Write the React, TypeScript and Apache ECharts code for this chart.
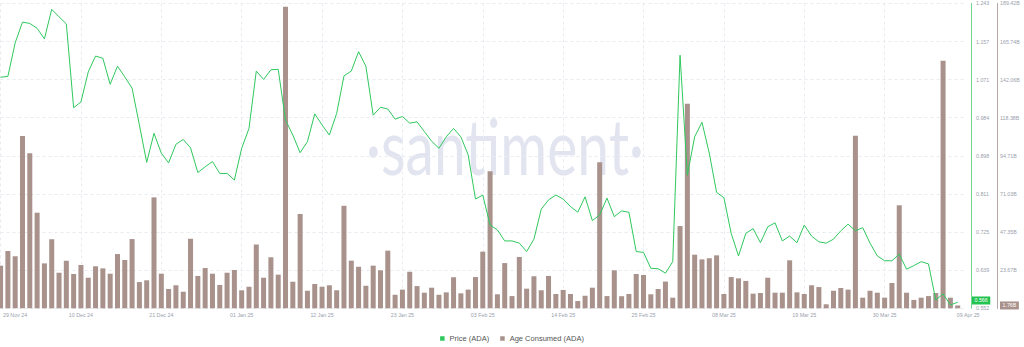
import React, { useEffect, useRef } from "react";
import * as echarts from "echarts";

// ---- data ----
const startDate = "2024-11-29";
const dayCount = 133; // 132 daily points + one empty slot at the right edge

const priceADA = [
  1.076, 1.078, 1.154, 1.201, 1.198, 1.187, 1.163, 1.230, 1.213, 1.197,
  1.007, 1.020, 1.088, 1.124, 1.119, 1.060, 1.101, 1.077, 1.051, 0.968,
  0.883, 0.949, 0.904, 0.882, 0.924, 0.935, 0.916, 0.860, 0.873, 0.885,
  0.858, 0.858, 0.843, 0.915, 0.960, 1.090, 1.071, 1.093, 1.094, 0.979,
  0.945, 0.905, 0.930, 0.993, 0.968, 0.945, 0.994, 1.079, 1.090, 1.134,
  1.101, 0.990, 1.008, 1.004, 0.981, 0.987, 0.972, 0.975, 0.953, 0.931,
  0.915, 0.941, 0.960, 0.941, 0.900, 0.800, 0.809, 0.741, 0.730, 0.705,
  0.705, 0.700, 0.681, 0.709, 0.777, 0.798, 0.809, 0.800, 0.783, 0.770,
  0.805, 0.751, 0.764, 0.802, 0.760, 0.773, 0.770, 0.681, 0.679, 0.643,
  0.642, 0.632, 0.658, 1.126, 0.854, 0.941, 0.974, 0.904, 0.815, 0.803,
  0.722, 0.671, 0.722, 0.733, 0.701, 0.737, 0.746, 0.705, 0.716, 0.701,
  0.741, 0.716, 0.703, 0.700, 0.709, 0.728, 0.743, 0.728, 0.735, 0.700,
  0.671, 0.660, 0.660, 0.675, 0.641, 0.649, 0.658, 0.653, 0.571, 0.585,
  0.560, 0.566,
];

// Age Consumed, in billions
const ageConsumedB = [
  26.5, 35.6, 32.3, 107.0, 96.3, 59.4, 27.9, 42.9, 22.1, 29.6,
  21.3, 26.9, 19.0, 26.1, 24.8, 21.5, 33.7, 30.0, 43.0, 16.3,
  17.4, 68.9, 21.5, 12.0, 14.3, 10.3, 43.2, 20.1, 25.0, 21.5,
  14.5, 22.1, 23.8, 11.2, 13.4, 39.7, 19.0, 31.7, 20.9, 187.3,
  16.5, 58.6, 10.9, 15.1, 13.4, 14.3, 11.2, 63.7, 29.6, 25.8,
  14.0, 26.5, 23.6, 35.8, 8.4, 11.6, 22.7, 13.8, 9.7, 12.8,
  8.4, 9.9, 19.3, 9.3, 11.6, 19.4, 35.2, 85.1, 8.7, 28.1,
  7.6, 31.9, 12.2, 19.9, 11.2, 20.1, 8.9, 11.4, 8.9, 4.5,
  7.8, 12.8, 90.7, 7.6, 23.6, 7.5, 8.9, 21.3, 20.7, 8.7,
  12.0, 16.6, 6.6, 51.1, 127.1, 33.3, 30.4, 31.1, 32.9, 8.9,
  19.4, 18.6, 17.0, 9.1, 9.5, 19.0, 9.7, 9.7, 29.8, 9.9,
  8.9, 14.3, 13.2, 2.5, 10.9, 12.6, 11.6, 107.2, 6.6, 10.9,
  9.7, 6.6, 15.7, 64.0, 9.7, 5.2, 6.6, 7.6, 9.5, 153.8,
  6.6, 1.76,
];

const priceTicks = [0.5523, 0.63869, 0.72508, 0.81147, 0.89786, 0.98425, 1.07064, 1.15703, 1.24342];
const ageMax = 189.42e9;
const ageStep = 23.6775e9;
const lastPriceLabel = "0.566";
const lastAgeLabel = "1.76B";
const legendNames = ["Price (ADA)", "Age Consumed (ADA)"];
const monthNames = ["Jan", "Feb", "Mar", "Apr", "May", "Jun", "Jul", "Aug", "Sep", "Oct", "Nov", "Dec"];

const PRICE_COLOR = "#2fc85e";
const AGE_COLOR = "#a8928b";
const AXIS_TEXT = "#9aa1ad";
const GRID_LINE = "#e8ebf0";

function buildCategories(): string[] {
  const out: string[] = [];
  const d0 = new Date(startDate + "T00:00:00Z");
  for (let i = 0; i < dayCount; i++) {
    const d = new Date(d0.getTime() + i * 86400000);
    out.push(d.toISOString().slice(0, 10));
  }
  return out;
}

function fmtDate(iso: string): string {
  const [y, m, d] = iso.split("-");
  return `${d} ${monthNames[parseInt(m, 10) - 1]} ${y.slice(2)}`;
}

const lastIndex = priceADA.length - 1;
const showTick = (i: number) => i === lastIndex || (i % 11 === 0 && i <= lastIndex);

export default function App() {
  const ref = useRef<HTMLDivElement>(null);

  useEffect(() => {
    if (!ref.current) return;
    const chart = echarts.init(ref.current, undefined, { renderer: "svg" });
    const categories = buildCategories();

    chart.setOption({
      animation: false,
      textStyle: { fontFamily: "Liberation Sans, Arial, sans-serif" },
      grid: { left: 0, right: 59, top: 3.4, bottom: 38.7, containLabel: false },
      graphic: [
        {
          type: "text",
          x: 505,
          y: 145,
          scaleX: 0.89,
          scaleY: 1.22,
          z: 0,
          silent: true,
          style: {
            text: "·santiment·",
            fontSize: 64,
            fontFamily: "Lato",
            fontWeight: 400,
            fill: "#e2e4f0",
            align: "center",
            verticalAlign: "middle",
          },
        },
      ],
      legend: {
        data: legendNames,
        left: "center",
        top: 329.5,
        icon: "rect",
        itemWidth: 4.5,
        itemHeight: 4.5,
        itemGap: 11,
        textStyle: { fontSize: 7.5, color: "#555" },
      },
      xAxis: {
        type: "category",
        data: categories,
        boundaryGap: false,
        axisLine: { show: false },
        axisTick: { show: false },
        splitLine: {
          show: true,
          interval: (i: number) => i % 11 === 0 && i <= lastIndex,
          lineStyle: { color: GRID_LINE, type: [3, 3], width: 1 },
        },
        axisLabel: {
          interval: (i: number) => showTick(i),
          fontSize: 5.3,
          color: AXIS_TEXT,
          margin: 4,
          formatter: (v: string, i: number) => {
            const t = fmtDate(v);
            if (i === 0) return `{first|${t}}`;
            if (i === lastIndex) return `{last|${t}}`;
            return t;
          },
          rich: {
            first: { fontSize: 5.3, color: AXIS_TEXT, padding: [0, 0, 0, 29] },
            last: { fontSize: 5.3, color: AXIS_TEXT, padding: [0, 0, 0, 21] },
          },
        },
      },
      yAxis: [
        {
          type: "value",
          position: "right",
          offset: 6,
          min: priceTicks[0],
          max: priceTicks[priceTicks.length - 1],
          axisLine: { show: true, lineStyle: { color: "#72d690", width: 1 } },
          axisTick: { show: false },
          splitLine: { show: false },
          axisLabel: {
            customValues: priceTicks,
            fontSize: 5.3,
            color: AXIS_TEXT,
            margin: 5,
            formatter: (v: number) => v.toFixed(3),
          },
        },
        {
          type: "value",
          position: "right",
          offset: 32,
          min: 0,
          max: ageMax,
          interval: ageStep,
          axisLine: { show: true, lineStyle: { color: "#b7a7a2", width: 1 } },
          axisTick: { show: false },
          splitLine: { show: true, lineStyle: { color: GRID_LINE, type: [3, 3], width: 1 } },
          axisLabel: {
            showMinLabel: false,
            fontSize: 5.3,
            color: AXIS_TEXT,
            margin: 3,
            formatter: (v: number) => (Math.floor(v / 1e7 + 1e-6) / 100).toFixed(2) + "B",
          },
        },
      ],
      series: [
        {
          name: legendNames[1],
          type: "bar",
          yAxisIndex: 1,
          barWidth: 5,
          itemStyle: { color: AGE_COLOR },
          data: ageConsumedB.map((v) => v * 1e9),
          markLine: {
            silent: true,
            symbol: "none",
            lineStyle: { width: 0, color: "transparent" },
            data: [{ yAxis: ageConsumedB[lastIndex] * 1e9 }],
            label: {
              position: "end",
              distance: 35,
              formatter: lastAgeLabel,
              backgroundColor: AGE_COLOR,
              color: "#fff",
              fontSize: 5.3,
              padding: [1.5, 2.5],
            },
          },
        },
        {
          name: legendNames[0],
          type: "line",
          yAxisIndex: 0,
          symbol: "none",
          lineStyle: { color: PRICE_COLOR, width: 1 },
          itemStyle: { color: PRICE_COLOR },
          data: priceADA,
          markLine: {
            silent: true,
            symbol: "none",
            lineStyle: { width: 0, color: "transparent" },
            data: [{ yAxis: priceADA[lastIndex] }],
            label: {
              position: "end",
              distance: 7,
              formatter: lastPriceLabel,
              backgroundColor: "#22c34f",
              color: "#fff",
              fontSize: 5.3,
              padding: [1.5, 2.5],
            },
          },
        },
      ],
    });

    return () => chart.dispose();
  }, []);

  return (
    <div
      ref={ref}
      style={{ position: "fixed", left: 0, top: 0, width: 1024, height: 347, background: "#fff" }}
    />
  );
}
